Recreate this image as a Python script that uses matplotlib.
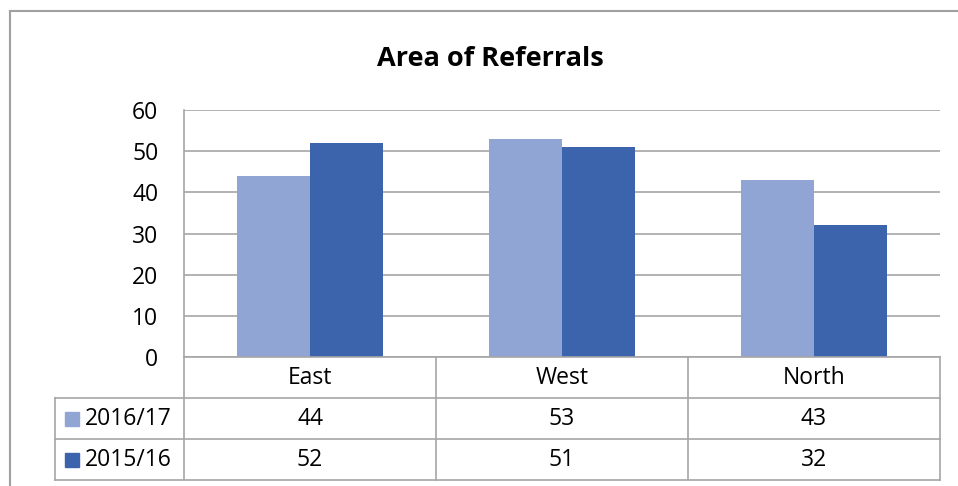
import matplotlib
matplotlib.use("Agg")
import matplotlib.pyplot as plt
from matplotlib.patches import Rectangle
from matplotlib.lines import Line2D

# data
categories = ["East", "West", "North"]
series_names = ["2016/17", "2015/16"]
values_1617 = [44, 53, 43]
values_1516 = [52, 51, 32]
yticks = [0, 10, 20, 30, 40, 50, 60]

colors = ["#91A5D5", "#3B64AD"]
grid_col = "#A6A6A6"
plt.rcParams['font.family'] = ['Open Sans', 'DejaVu Sans']
fs = 16.5

W, H = 958, 486
fig = plt.figure(figsize=(W / 100, H / 100), dpi=100)

def fx(x):
    return x / W

def fy(y):
    return 1 - y / H

# outer chart border (left + top only visible)
fig.add_artist(Line2D([fx(10), fx(10)], [fy(11), fy(490)], color="#A0A0A0", lw=1.5))
fig.add_artist(Line2D([fx(10), fx(960)], [fy(11), fy(11)], color="#A0A0A0", lw=1.5))

# plot area
left, right, top, bottom = 184, 940, 110, 357
ax = fig.add_axes([fx(left), fy(bottom), fx(right - left), (bottom - top) / H])
n = len(categories)
bw = 0.29
xs = list(range(n))
ax.bar([x - bw / 2 for x in xs], values_1617, bw, color=colors[0], zorder=3)
ax.bar([x + bw / 2 for x in xs], values_1516, bw, color=colors[1], zorder=3)
ax.set_xlim(-0.5, n - 0.5)
ax.set_ylim(0, 60)
ax.set_yticks(yticks)
ax.set_yticklabels([str(t) for t in yticks], fontsize=fs)
ax.set_xticks([])
ax.yaxis.grid(True, color=grid_col, lw=1.2, zorder=0)
ax.tick_params(axis="y", length=0, pad=18.5)
for s in ["top", "right", "bottom"]:
    ax.spines[s].set_visible(False)
ax.spines["left"].set_color(grid_col)
ax.spines["left"].set_linewidth(1.2)

fig.text(fx(490), fy(59), "Area of Referrals", ha="center", va="center",
         fontsize=19.5, fontweight="bold")

# data table below
row_y = [357, 398, 439, 480]
col_x = [left + i * (right - left) / n for i in range(n + 1)]
label_left = 55

def hline(x0, x1, y):
    fig.add_artist(Line2D([fx(x0), fx(x1)], [fy(y), fy(y)], color=grid_col, lw=1.2))

def vline(x, y0, y1):
    fig.add_artist(Line2D([fx(x), fx(x)], [fy(y0), fy(y1)], color=grid_col, lw=1.2))

hline(left, right, row_y[0])
for y in row_y[1:]:
    hline(label_left, right, y)
for x in col_x:
    vline(x, row_y[0], row_y[3])
vline(label_left, row_y[1], row_y[3])

for i, c in enumerate(categories):
    cx = (col_x[i] + col_x[i + 1]) / 2
    fig.text(fx(cx), fy((row_y[0] + row_y[1]) / 2), c, ha="center", va="center", fontsize=fs)

for r, (name, vals) in enumerate(zip(series_names, [values_1617, values_1516])):
    cy = (row_y[r + 1] + row_y[r + 2]) / 2
    fig.add_artist(Rectangle((fx(65), fy(cy + 7)), 14 / W, 14 / H,
                             color=colors[r], transform=fig.transFigure))
    fig.text(fx(85), fy(cy), name, ha="left", va="center", fontsize=fs)
    for i, v in enumerate(vals):
        cx = (col_x[i] + col_x[i + 1]) / 2
        fig.text(fx(cx), fy(cy), str(v), ha="center", va="center", fontsize=fs)

fig.savefig("out.png", dpi=100)
